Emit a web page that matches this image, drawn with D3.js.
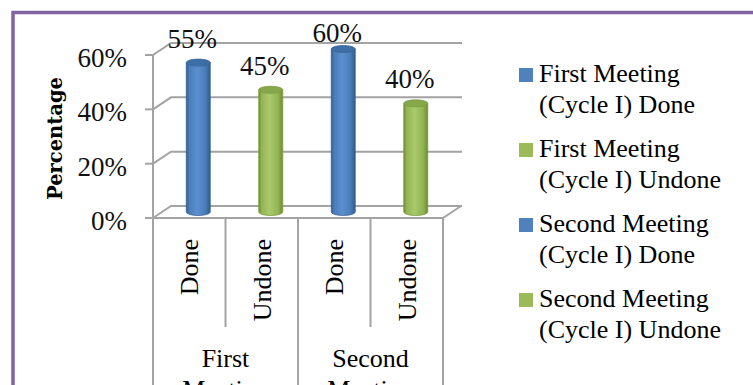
<!DOCTYPE html>
<html>
<head>
<meta charset="utf-8">
<script src="https://cdn.jsdelivr.net/npm/d3@7"></script>
<style>
  html, body { margin: 0; padding: 0; background: #fff; }
  svg { display: block; }
</style>
</head>
<body>
<svg id="chart" width="753" height="385"></svg>
<script>
// Data
const groups = ["First Meeting", "Second Meeting"];
const statuses = ["Done", "Undone"];
const values = [55, 45, 60, 40];            // percent, in order: First Done, First Undone, Second Done, Second Undone
const seriesNames = [
  ["First Meeting", "(Cycle I) Done"],
  ["First Meeting", "(Cycle I) Undone"],
  ["Second Meeting", "(Cycle I) Done"],
  ["Second Meeting", "(Cycle I) Undone"]
];
const yTicks = [0, 20, 40, 60];

const blue = "#4f81bd", green = "#9bbb59";
const seriesColors = [blue, green, blue, green];

const svg = d3.select("#chart");
const W = 753, H = 385;
const serif = "'Liberation Serif', 'Times New Roman', serif";

// Frame
svg.append("rect")
  .attr("x", 13).attr("y", 12.5)
  .attr("width", 800).attr("height", 420)
  .attr("fill", "#fff")
  .attr("stroke", "#8064a2").attr("stroke-width", 3.5);

// Geometry of the 3D plot box
const depth = { dx: 18, dy: -12 };
const x0 = 153, x1 = 443;
const y = d3.scaleLinear().domain([0, 60]).range([218, 55]);
const cats = d3.range(values.length);
const x = d3.scaleBand().domain(cats).range([x0, x1]).padding(0);

const grid = svg.append("g")
  .attr("stroke", "#a3a3a3").attr("stroke-width", 2).attr("fill", "none");

// Back-wall gridlines with side-wall diagonals
yTicks.forEach(t => {
  const yy = y(t);
  grid.append("path")
    .attr("d", `M${x0},${yy} L${x0 + depth.dx},${yy + depth.dy} L${x1 + depth.dx + 1},${yy + depth.dy}`);
});
// Floor
grid.append("path")
  .attr("d", `M${x0},${y(0)} L${x1},${y(0)} L${x1 + depth.dx},${y(0) + depth.dy}`);

// Value axis with tick marks
grid.append("path").attr("d", `M${x0},${y(60)} L${x0},${y(0)}`);
yTicks.forEach(t => {
  grid.append("path").attr("d", `M${x0 - 8},${y(t)} L${x0},${y(t)}`);
});

// Category separators (two-level axis)
const sep = svg.append("g").attr("stroke", "#a3a3a3").attr("stroke-width", 2);
cats.concat([values.length]).forEach(i => {
  const xx = i < values.length ? x(i) : x1;
  const outer = i % 2 === 0;
  sep.append("line")
    .attr("x1", xx).attr("x2", xx)
    .attr("y1", y(0)).attr("y2", outer ? H + 5 : 327);
});

// Tick labels
svg.append("g").selectAll("text").data(yTicks).join("text")
  .attr("x", 127).attr("y", d => y(d) + 12)
  .attr("text-anchor", "end")
  .attr("font-family", serif)
  .attr("font-size", 27)
  .attr("fill", "#111")
  .text(d => d + "%");

// Axis title
svg.append("text")
  .attr("transform", `translate(62,138.5) rotate(-90)`)
  .attr("text-anchor", "middle")
  .attr("font-family", "DejaVu Serif")
  .attr("font-weight", "bold")
  .attr("font-size", 20)
  .attr("textLength", 123)
  .attr("lengthAdjust", "spacingAndGlyphs")
  .attr("fill", "#000")
  .text("Percentage");

// Cylinder gradients
const defs = svg.append("defs");
function cylGrad(id, dark, mid, light) {
  const g = defs.append("linearGradient").attr("id", id)
    .attr("x1", "0%").attr("x2", "100%").attr("y1", "0%").attr("y2", "0%");
  g.append("stop").attr("offset", "0%").attr("stop-color", dark);
  g.append("stop").attr("offset", "12%").attr("stop-color", mid);
  g.append("stop").attr("offset", "45%").attr("stop-color", light);
  g.append("stop").attr("offset", "80%").attr("stop-color", mid);
  g.append("stop").attr("offset", "100%").attr("stop-color", dark);
}
cylGrad("gBlue", "#2f5a8e", "#4a7cb8", "#5b8fcf");
cylGrad("gGreen", "#6e8a35", "#94b553", "#a9c96b");
const topFill = { [blue]: "#3e6ea6", [green]: "#86a74a" };

// Bars (cylinders at mid depth)
const barW = 24, ry = 3.5;
const bars = svg.append("g");
values.forEach((v, i) => {
  const cx = x(i) + x.bandwidth() / 2 + depth.dx / 2;
  const yb = y(0) + depth.dy / 2;
  const yt = y(v) + depth.dy / 2;
  const col = seriesColors[i];
  const g = bars.append("g");
  g.append("path")
    .attr("d", `M${cx - barW / 2},${yt} L${cx - barW / 2},${yb} A${barW / 2},${ry} 0 0 0 ${cx + barW / 2},${yb} L${cx + barW / 2},${yt} Z`)
    .attr("fill", `url(#${col === blue ? "gBlue" : "gGreen"})`)
    .attr("stroke", col === blue ? "#3a6699" : "#7a9a3e").attr("stroke-width", 0.8);
  g.append("ellipse")
    .attr("cx", cx).attr("cy", yt)
    .attr("rx", barW / 2).attr("ry", ry)
    .attr("fill", topFill[col])
    .attr("stroke", col === blue ? "#3a6699" : "#7a9a3e").attr("stroke-width", 0.8);
});

// Data labels
svg.append("g").selectAll("text").data(values).join("text")
  .attr("x", (d, i) => x(i) + x.bandwidth() / 2 + 3)
  .attr("y", d => Math.max(y(d) - 21, 42))
  .attr("text-anchor", "middle")
  .attr("font-family", serif)
  .attr("font-size", 27)
  .attr("fill", "#111")
  .text(d => d + "%");

// Category labels (inner level, rotated)
svg.append("g").selectAll("text").data(cats).join("text")
  .attr("transform", i => `translate(${x(i) + x.bandwidth() / 2 + 9},239) rotate(-90)`)
  .attr("text-anchor", "end")
  .attr("font-family", serif)
  .attr("font-size", 26)
  .attr("fill", "#000")
  .text(i => statuses[i % 2]);

// Group labels (outer level, wrapped)
groups.forEach((gname, gi) => {
  const cx = (x(gi * 2) + (gi * 2 + 2 < values.length ? x(gi * 2 + 2) : x1)) / 2;
  const t = svg.append("text")
    .attr("text-anchor", "middle")
    .attr("font-family", serif)
    .attr("font-size", 26)
    .attr("fill", "#000");
  gname.split(" ").forEach((w, k) => {
    t.append("tspan").attr("x", cx).attr("y", 367 + k * 31).text(w);
  });
});

// Legend
const legend = svg.append("g").attr("transform", "translate(519,0)");
seriesNames.forEach((lines, i) => {
  const base = 82 + i * 75;
  legend.append("rect")
    .attr("x", 0).attr("y", base - 14)
    .attr("width", 14).attr("height", 14)
    .attr("fill", seriesColors[i]);
  const t = legend.append("text")
    .attr("font-family", serif)
    .attr("font-size", 26)
    .attr("fill", "#000");
  lines.forEach((ln, k) => {
    t.append("tspan").attr("x", 20).attr("y", base + k * 31).text(ln);
  });
});
</script>
</body>
</html>
